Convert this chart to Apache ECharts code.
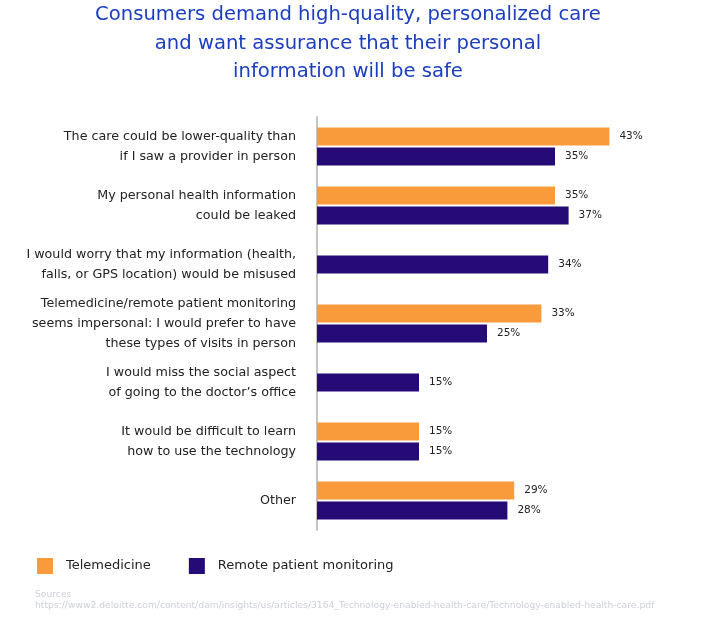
<!DOCTYPE html>
<html>
<head>
<meta charset="utf-8">
<script src="https://cdn.jsdelivr.net/npm/echarts@6/dist/echarts.min.js"></script>
<style>
  html, body { margin: 0; padding: 0; background: #ffffff; }
  #chart { width: 701px; height: 620px; }
</style>
</head>
<body>
<div id="chart"></div>
<script>
const titleText = 'Consumers demand high-quality, personalized care\nand want assurance that their personal\ninformation will be safe';
const categories = [
  'The care could be lower-quality than\nif I saw a provider in person',
  'My personal health information\ncould be leaked',
  'I would worry that my information (health,\nfalls, or GPS location) would be misused',
  'Telemedicine/remote patient monitoring\nseems impersonal: I would prefer to have\nthese types of visits in person',
  'I would miss the social aspect\nof going to the doctor\u2019s office',
  'It would be difficult to learn\nhow to use the technology',
  'Other'
];
const telemedicine = [43, 35, null, 33, null, 15, 29];
const remoteMonitoring = [35, 37, 34, 25, 15, 15, 28];
const seriesNames = ['Telemedicine', 'Remote patient monitoring'];
const sourceLines = ['Sources', 'https://www2.deloitte.com/content/dam/insights/us/articles/3164_Technology-enabled-health-care/Technology-enabled-health-care.pdf'];

const FONT = "'DejaVu Sans', sans-serif";
const ORANGE = '#F99B3A';
const PURPLE = '#240B76';

const remotePaired = remoteMonitoring.map((v, i) => telemedicine[i] == null ? null : v);
const remoteSingle = remoteMonitoring.map((v, i) => telemedicine[i] == null ? v : null);

const labelCfg = {
  show: true, position: 'right', distance: 10,
  formatter: '{c}%', color: '#222', fontSize: 10.5, fontFamily: FONT
};

const chart = echarts.init(document.getElementById('chart'), null, { renderer: 'canvas' });
chart.setOption({
  backgroundColor: '#ffffff',
  animation: false,
  textStyle: { fontFamily: FONT },
  title: {
    text: titleText,
    left: 348, top: 1, textAlign: 'center', padding: 0,
    textStyle: { color: '#1B3DC0', fontSize: 19.6, fontWeight: 'normal', lineHeight: 28.5, fontFamily: FONT }
  },
  legend: {
    data: seriesNames,
    left: 37, top: 558, padding: 0,
    itemWidth: 16, itemHeight: 16, itemGap: 38,
    icon: 'rect',
    textStyle: { color: '#222', fontSize: 13, fontFamily: FONT, padding: [0, 0, 0, 8] }
  },
  grid: { left: 317, top: 117, width: 340, height: 413, containLabel: false },
  xAxis: { type: 'value', min: 0, max: 50, show: false, splitLine: { show: false } },
  yAxis: [
    {
      type: 'category', data: categories, inverse: true,
      axisLine: { show: true, lineStyle: { color: '#C4C4C4', width: 2 } },
      axisTick: { show: false },
      axisLabel: { color: '#222', fontSize: 12.7, lineHeight: 20, margin: 21, fontFamily: FONT, align: 'right' }
    },
    {
      type: 'category', data: categories, inverse: true, show: false
    }
  ],
  series: [
    {
      name: seriesNames[0], type: 'bar', yAxisIndex: 0, data: telemedicine,
      barWidth: 18, barGap: '11%', itemStyle: { color: ORANGE }, label: labelCfg
    },
    {
      name: seriesNames[1], type: 'bar', yAxisIndex: 0, data: remotePaired,
      barWidth: 18, barGap: '11%', itemStyle: { color: PURPLE }, label: labelCfg
    },
    {
      name: seriesNames[1], type: 'bar', yAxisIndex: 1, data: remoteSingle,
      barWidth: 18, itemStyle: { color: PURPLE }, label: labelCfg
    }
  ],
  graphic: [
    { type: 'text', left: 35, top: 590, style: { text: sourceLines[0], fill: '#CDD0D9', fontSize: 9.2, fontFamily: FONT } },
    { type: 'text', left: 35, top: 601.5, style: { text: sourceLines[1], fill: '#CDD0D9', fontSize: 9.2, fontFamily: FONT } }
  ]
});
</script>
</body>
</html>
